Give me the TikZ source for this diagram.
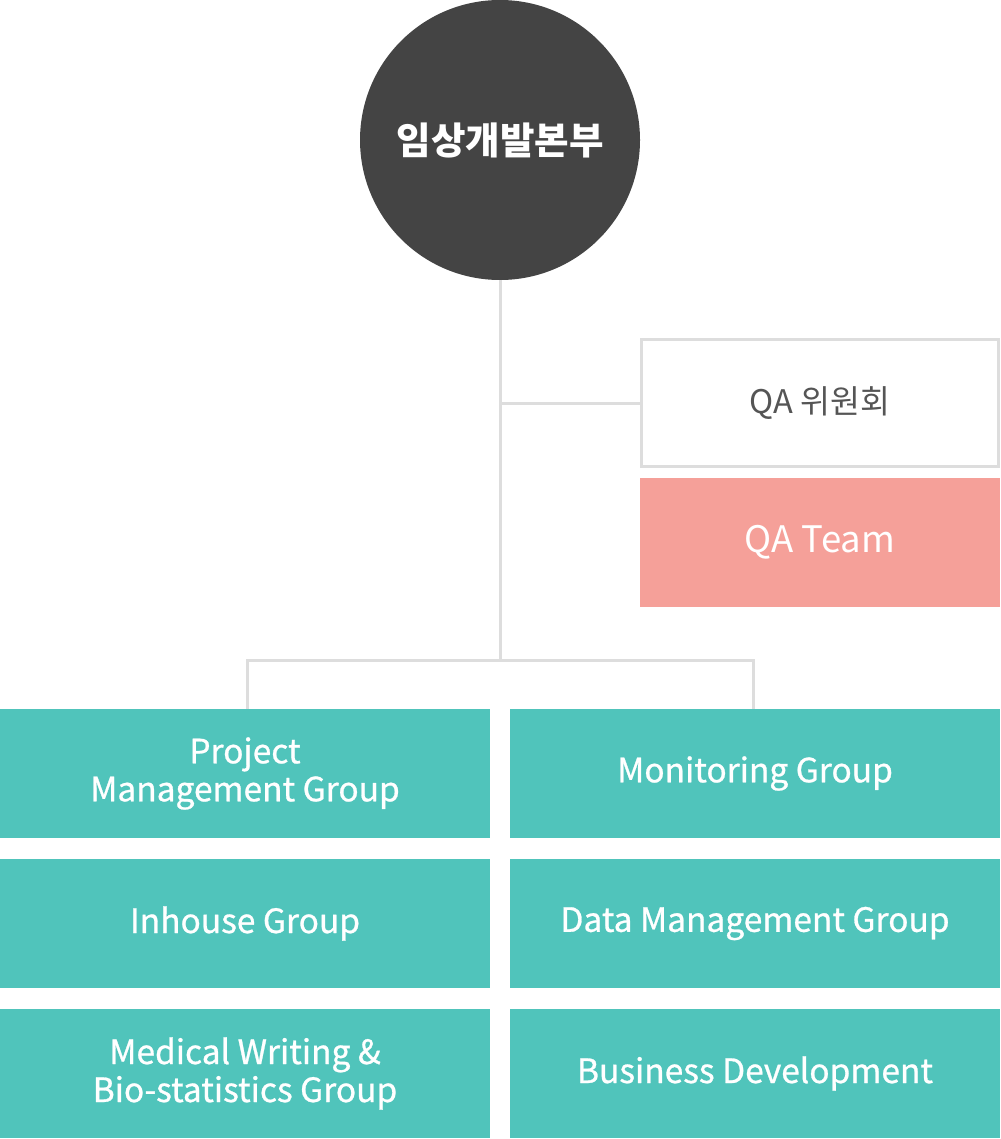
\documentclass[tikz,border=0pt]{standalone}
\usepackage{fontspec}
\setmainfont{Noto Sans CJK KR}
\newfontfamily\medfont{Noto Sans CJK KR}[BoldFont={Noto Sans CJK KR}, BoldFeatures={FakeBold=0.8}]
\definecolor{dark}{HTML}{444444}
\definecolor{teal2}{HTML}{50C4BB}
\definecolor{pink2}{HTML}{F5A099}
\definecolor{linec}{HTML}{DDDDDD}
\definecolor{txtg}{HTML}{555555}
\tikzset{
  grpbox/.style={rectangle, fill=teal2, text=white, minimum width=490pt, minimum height=129pt, inner sep=0pt, align=center, font=\medfont\bfseries\fontsize{33.5}{38}\selectfont},
  conn/.style={draw=linec, line width=3pt}
}
\begin{document}
\begin{tikzpicture}[x=1pt,y=-1pt]
\useasboundingbox (0,0) rectangle (1000,1139);
\node[circle, fill=dark, minimum size=280pt, inner sep=0pt, text=white, font=\fontsize{37.5}{40}\selectfont\bfseries] (top) at (500,140) {임상개발본부};
\node[rectangle, draw=linec, line width=3pt, fill=white, minimum width=357pt, minimum height=127pt, inner sep=0pt, text=txtg, font=\fontsize{32.5}{38}\selectfont] (qa) at (820,403) {QA 위원회};
\node[rectangle, fill=pink2, minimum width=360pt, minimum height=129pt, inner sep=0pt, text=white, font=\fontsize{36.5}{40}\selectfont] (qt) at (820,542.5) {QA Team};
\node[grpbox] (pm) at (245,773.5) {Project\\Management Group};
\node[grpbox] (mon) at (755,773.5) {Monitoring Group};
\node[grpbox] (inh) at (245,923.5) {Inhouse Group};
\node[grpbox] (dm) at (755,923.5) {Data Management Group};
\node[grpbox] (mw) at (245,1073.5) {Medical Writing \&\\Bio-statistics Group};
\node[grpbox] (bd) at (755,1073.5) {Business Development};
\coordinate (j) at (500,660);
\coordinate (b) at (500,403);
\draw[conn] (top.south) -- (j);
\draw[conn] (b) -- (qa.west);
\draw[conn] ([xshift=2pt]pm.north) |- (j) -| ([xshift=-2pt]mon.north);
\end{tikzpicture}
\end{document}
